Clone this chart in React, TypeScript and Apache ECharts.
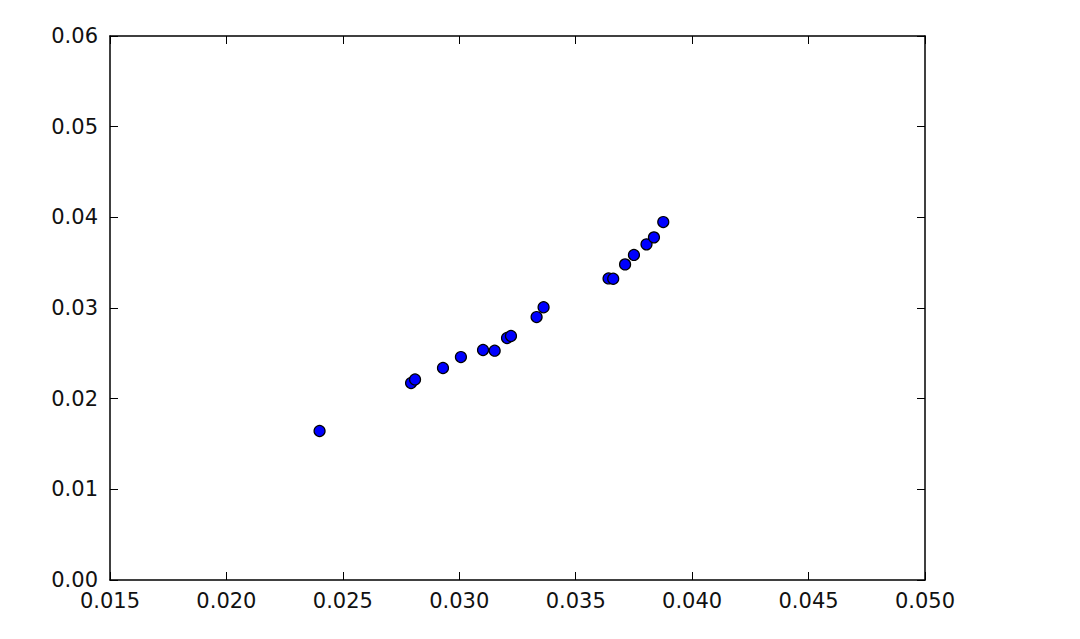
import React, { useEffect, useRef } from "react";
import * as echarts from "echarts";

const xValues = [0.0240, 0.02793, 0.0281, 0.0293, 0.03007, 0.03102, 0.03152, 0.03205, 0.03222, 0.03332, 0.03362, 0.03641, 0.03661, 0.03712, 0.0375, 0.03804, 0.03836, 0.03876];
const yValues = [0.01643, 0.02173, 0.02212, 0.02338, 0.02459, 0.02537, 0.02529, 0.02669, 0.02691, 0.02900, 0.03008, 0.03326, 0.03323, 0.03481, 0.03585, 0.03702, 0.03779, 0.03948];

const xMin = 0.015, xMax = 0.05, xStep = 0.005;
const yMin = 0, yMax = 0.06, yStep = 0.01;

export default function App() {
  const ref = useRef<HTMLDivElement>(null);
  useEffect(() => {
    if (!ref.current) return;
    const chart = echarts.init(ref.current, null, { renderer: "svg" });
    const font = { fontFamily: "DejaVu Sans", fontSize: 21, color: "#111" };
    const lineStyle = { color: "#000", width: 1.5 };
    chart.setOption({
      animation: false,
      backgroundColor: "#fff",
      grid: { left: 102, right: 147, top: 28, bottom: 51 },
      xAxis: [
        {
          type: "value", min: xMin, max: xMax, interval: xStep, position: "bottom",
          axisLine: { show: true, onZero: false, lineStyle },
          axisTick: { show: true, inside: true, length: 8, lineStyle: { color: "#000", width: 1 } },
          axisLabel: { ...font, margin: 10, formatter: (v: number) => v.toFixed(3) },
          splitLine: { show: false },
        },
        {
          type: "value", min: xMin, max: xMax, interval: xStep, position: "top",
          axisLine: { show: true, onZero: false, lineStyle },
          axisTick: { show: true, inside: true, length: 8, lineStyle: { color: "#000", width: 1 } },
          axisLabel: { show: false },
          splitLine: { show: false },
        },
      ],
      yAxis: [
        {
          type: "value", min: yMin, max: yMax, interval: yStep, position: "left",
          axisLine: { show: true, onZero: false, lineStyle },
          axisTick: { show: true, inside: true, length: 8, lineStyle: { color: "#000", width: 1 } },
          axisLabel: { ...font, margin: 12, formatter: (v: number) => v.toFixed(2) },
          splitLine: { show: false },
        },
        {
          type: "value", min: yMin, max: yMax, interval: yStep, position: "right",
          axisLine: { show: true, onZero: false, lineStyle },
          axisTick: { show: true, inside: true, length: 8, lineStyle: { color: "#000", width: 1 } },
          axisLabel: { show: false },
          splitLine: { show: false },
        },
      ],
      series: [
        {
          type: "scatter",
          data: xValues.map((x, i) => [x, yValues[i]]),
          symbolSize: 11,
          itemStyle: { color: "#0000ff", borderColor: "#000", borderWidth: 1.2, opacity: 1 },
        },
      ],
    });
    return () => chart.dispose();
  }, []);
  return <div ref={ref} style={{ width: 1064, height: 623 }} />;
}
